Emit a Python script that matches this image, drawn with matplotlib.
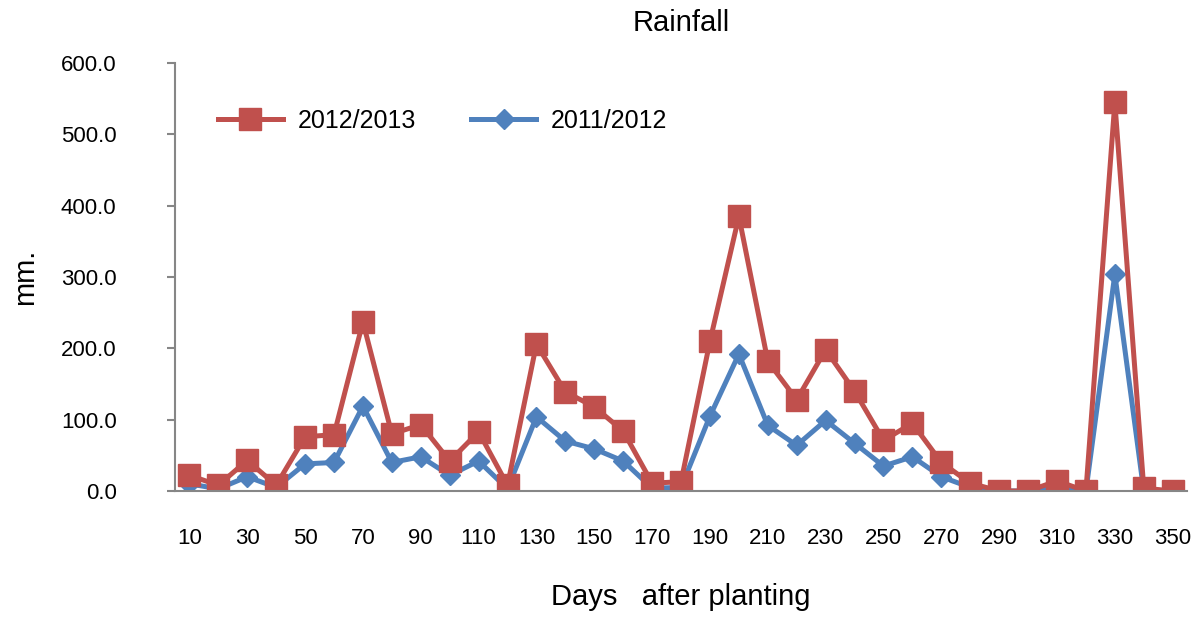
import matplotlib.pyplot as plt
import numpy as np

days = list(range(10, 360, 10))

rain_2012_13 = [22, 8, 43, 8, 76, 79, 237, 80, 93, 42, 83, 8,
                206, 139, 118, 84, 11, 13, 210, 385, 182, 128, 198, 140,
                71, 95, 40, 11, 0, 0, 14, 0, 545, 4, 0]
rain_2011_12 = [10, 3, 20, 5, 38, 40, 119, 40, 48, 22, 42, 3,
                104, 70, 59, 42, 4, 5, 105, 192, 92, 64, 99, 67,
                35, 48, 20, 5, 0, 0, 4, 0, 304, 0, 0]

RED = "#C0504D"
BLUE = "#4F81BD"
GREY = "#868686"

plt.rcParams["font.family"] = ["Liberation Sans", "DejaVu Sans"]

fig = plt.figure(figsize=(12.04, 6.19), dpi=100)
ax = fig.add_axes([0.1453, 0.2068, 0.8407, 0.6912])

x = np.arange(len(days))
blue, = ax.plot(x, rain_2011_12, color=BLUE, lw=3.6, marker="D",
                markersize=10.5, label="2011/2012")
red, = ax.plot(x, rain_2012_13, color=RED, lw=3.6, marker="s",
               markersize=16, label="2012/2013")

ax.set_xlim(-0.5, len(days) - 0.5)
ax.set_ylim(0, 600)
ax.set_yticks(np.arange(0, 601, 100))
ax.yaxis.set_major_formatter(plt.FuncFormatter(lambda v, p: f"{v:.1f}"))
ax.set_xticks(x[::2])
ax.set_xticklabels([str(d) for d in days[::2]])

for s in ("top", "right"):
    ax.spines[s].set_visible(False)
for s in ("left", "bottom"):
    ax.spines[s].set_color(GREY)
    ax.spines[s].set_linewidth(1.5)

ax.tick_params(axis="y", length=6, width=1.5, color=GREY, pad=36, labelsize=16)
ax.tick_params(axis="x", length=0, pad=27, labelsize=16)

ax.set_title("Rainfall", fontsize=21, pad=23)
ax.set_ylabel("mm.", fontsize=21, labelpad=16)
ax.set_xlabel("Days   after planting", fontsize=21, labelpad=24)

ax.legend(handles=[red, blue], loc="upper left", ncol=2, frameon=False,
          fontsize=18, bbox_to_anchor=(0.02, 0.945), handlelength=2.6,
          columnspacing=2.2, handletextpad=0.6)

fig.savefig("out.png", dpi=100)
